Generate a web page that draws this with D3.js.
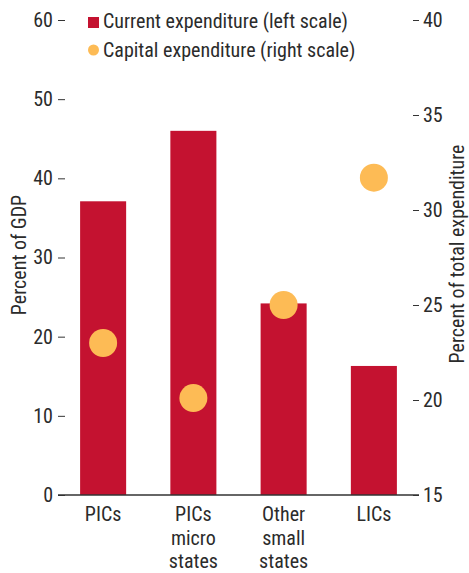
<!DOCTYPE html>
<html><head><meta charset="utf-8">
<script src="https://cdn.jsdelivr.net/npm/d3@7"></script>
<style>
body{margin:0;background:#fff;}
text{font-family:"Liberation Sans Narrow","Roboto Condensed","Arial Narrow",Roboto,sans-serif;fill:#2b2b2b;}
</style></head><body>
<svg id="c" width="469" height="573"></svg>
<script>
const categories = [["PICs"], ["PICs","micro","states"], ["Other","small","states"], ["LICs"]];
const categoryKeys = ["PICs", "PICs micro states", "Other small states", "LICs"];
const currentExp = [37.1, 46.0, 24.2, 16.3];
const capitalExp = [23.0, 20.1, 25.0, 31.7];
const leftTicks = [0, 10, 20, 30, 40, 50, 60];
const rightTicks = [15, 20, 25, 30, 35, 40];

const svg = d3.select("#c");
const x0 = 58, x1 = 419, yTop = 20, yBot = 495;
const red = "#C41230", gold = "#FDBB55";
const fs = 20;

const x = d3.scaleBand().domain(categoryKeys).range([x0, x1]).paddingInner(0.49).paddingOuter(0.245);
const yL = d3.scaleLinear().domain([0, 60]).range([yBot, yTop]);
const yR = d3.scaleLinear().domain([15, 40]).range([yBot, yTop]);

// bars
svg.selectAll("rect.bar").data(currentExp).enter().append("rect")
  .attr("x", (d,i) => x(categoryKeys[i]))
  .attr("width", x.bandwidth())
  .attr("y", d => yL(d))
  .attr("height", d => yBot - yL(d))
  .attr("fill", red);

// left axis
const la = svg.append("g").attr("transform", `translate(${x0},0)`)
  .call(d3.axisLeft(yL).tickValues(leftTicks).tickSize(-7).tickPadding(5));
la.select(".domain").remove();
la.selectAll("line").attr("stroke", "#333");
la.selectAll("text").style("font-size", fs + "px").attr("fill", "#2b2b2b");

// right axis
const ra = svg.append("g").attr("transform", `translate(${x1},0)`)
  .call(d3.axisRight(yR).tickValues(rightTicks).tickSize(-6).tickPadding(4));
ra.select(".domain").remove();
ra.selectAll("line").attr("stroke", "#333");
ra.selectAll("text").style("font-size", fs + "px").attr("fill", "#2b2b2b");

// baseline
svg.append("line").attr("x1", x0).attr("x2", x1).attr("y1", yBot).attr("y2", yBot)
  .attr("stroke", "#333").attr("stroke-width", 1.5);

// circles
svg.selectAll("circle.cap").data(capitalExp).enter().append("circle")
  .attr("cx", (d,i) => x(categoryKeys[i]) + x.bandwidth()/2)
  .attr("cy", d => yR(d))
  .attr("r", 14)
  .attr("fill", gold);

// x labels
categories.forEach((lines, i) => {
  const t = svg.append("text").attr("text-anchor", "middle").style("font-size", fs + "px")
    .attr("x", x(categoryKeys[i]) + x.bandwidth()/2).attr("y", 521);
  lines.forEach((l, j) => t.append("tspan").attr("x", x(categoryKeys[i]) + x.bandwidth()/2)
    .attr("dy", j ? 23.5 : 0).text(l));
});

// axis titles
svg.append("text").attr("transform", "translate(26,255) rotate(-90)").attr("text-anchor", "middle")
  .style("font-size", fs + "px").text("Percent of GDP");
svg.append("text").attr("transform", "translate(464,254) rotate(-90)").attr("text-anchor", "middle")
  .style("font-size", fs + "px").text("Percent of total expenditure");

// legend
svg.append("rect").attr("x", 88).attr("y", 17).attr("width", 11).attr("height", 11).attr("fill", red);
svg.append("text").attr("x", 103).attr("y", 28).style("font-size", fs + "px").text("Current expenditure (left scale)");
svg.append("circle").attr("cx", 93.5).attr("cy", 50).attr("r", 5.5).attr("fill", gold);
svg.append("text").attr("x", 103).attr("y", 57).style("font-size", fs + "px").text("Capital expenditure (right scale)");
</script></body></html>
